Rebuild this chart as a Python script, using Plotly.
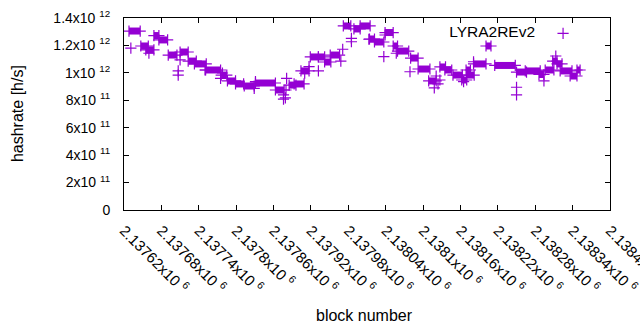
import plotly.graph_objects as go

# Runs of consecutive blocks where the estimate stays at one level: start block, end block, hashrate
run_start = [2137628, 2137647, 2137655, 2137668, 2137676, 2137691, 2137710, 2137723, 2137733, 2137751,
             2137776, 2137786, 2137799, 2137813, 2137831, 2137863, 2137885, 2137893, 2137904, 2137919,
             2137932, 2137942, 2137951, 2137972, 2137989, 2137999, 2138014, 2138022, 2138039, 2138052,
             2138059, 2138080, 2138092, 2138109, 2138127, 2138135, 2138148, 2138162, 2138169, 2138170,
             2138181, 2138201, 2138215, 2138250, 2138264, 2138286, 2138296, 2138308, 2138315, 2138320,
             2138336, 2138347]
run_end = [2137646, 2137659, 2137668, 2137676, 2137690, 2137705, 2137723, 2137736, 2137752, 2137775,
           2137785, 2137799, 2137812, 2137829, 2137863, 2137877, 2137896, 2137909, 2137917, 2137932,
           2137942, 2137952, 2137966, 2137984, 2137999, 2138015, 2138022, 2138037, 2138052, 2138059,
           2138077, 2138092, 2138111, 2138121, 2138136, 2138146, 2138163, 2138170, 2138176, 2138182,
           2138201, 2138209, 2138248, 2138266, 2138288, 2138294, 2138310, 2138315, 2138323, 2138339,
           2138347, 2138352]
run_value = [1.305e12, 1.196e12, 1.167e12, 1.272e12, 1.240e12, 1.130e12, 1.152e12, 1.086e12, 1.065e12, 1.021e12,
             0.984e12, 0.941e12, 0.919e12, 0.904e12, 0.926e12, 0.875e12, 0.911e12, 0.919e12, 1.014e12, 1.116e12,
             1.116e12, 1.079e12, 1.130e12, 1.342e12, 1.320e12, 1.342e12, 1.247e12, 1.225e12, 1.294e12, 1.196e12,
             1.159e12, 1.108e12, 1.028e12, 0.941e12, 1.043e12, 1.021e12, 0.984e12, 0.948e12, 1.021e12, 0.984e12,
             1.065e12, 1.196e12, 1.054e12, 1.006e12, 1.014e12, 0.988e12, 1.021e12, 1.086e12, 1.065e12, 1.014e12,
             0.977e12, 1.021e12]

# Single blocks off the level runs
pt_block = [2137631, 2137660, 2137710, 2137707, 2137707, 2137750, 2137775, 2137778, 2137829, 2137831,
            2137876, 2137876, 2137881, 2137880, 2137879, 2137917, 2137910, 2137932, 2137968, 2137971,
            2137985, 2137985, 2138013, 2138037, 2138039, 2138057, 2138079, 2138121, 2138124, 2138118,
            2138127, 2138165, 2138181, 2138250, 2138250, 2138294, 2138313]
pt_value = [1.181e12, 1.143e12, 1.094e12, 1.014e12, 0.984e12, 1.021e12, 0.960e12, 0.999e12, 0.887e12, 0.936e12,
            0.809e12, 0.839e12, 0.960e12, 0.875e12, 0.817e12, 1.045e12, 0.997e12, 1.014e12, 1.086e12, 1.172e12,
            1.227e12, 1.252e12, 1.245e12, 1.118e12, 1.276e12, 1.143e12, 1.008e12, 0.977e12, 0.919e12, 0.890e12,
            0.948e12, 0.936e12, 1.081e12, 0.895e12, 0.839e12, 0.941e12, 1.123e12]

x_tickvals = [2137620 + 60 * i for i in range(14)]
x_ticktext = ["2.13762", "2.13768", "2.13774", "2.1378", "2.13786", "2.13792", "2.13798",
              "2.13804", "2.1381", "2.13816", "2.13822", "2.13828", "2.13834", "2.1384"]
y_tickvals = [0, 2e11, 4e11, 6e11, 8e11, 1e12, 1.2e12, 1.4e12]
y_ticktext = ["0", "2x10 <sup>11</sup>", "4x10 <sup>11</sup>", "6x10 <sup>11</sup>", "8x10 <sup>11</sup>",
              "1x10 <sup>12</sup>", "1.2x10 <sup>12</sup>", "1.4x10 <sup>12</sup>"]

COLOR = "#9400D3"
FONT = "Liberation Sans, Arial, sans-serif"

seg_x, seg_y = [], []
for s, e, v in zip(run_start, run_end, run_value):
    seg_x += [s, e, None]
    seg_y += [v, v, None]

mk_x = list(pt_block) + list(run_start) + list(run_end)
mk_y = list(pt_value) + list(run_value) + list(run_value)

fig = go.Figure()
fig.add_trace(go.Scatter(x=seg_x, y=seg_y, mode="lines", line=dict(color=COLOR, width=7),
                         showlegend=False, hoverinfo="skip"))
fig.add_trace(go.Scatter(x=mk_x, y=mk_y, mode="markers", name="",
                         marker=dict(symbol="cross-thin", size=8, line=dict(color=COLOR, width=1.2), color=COLOR),
                         showlegend=True))

fig.update_layout(
    width=640, height=330,
    margin=dict(l=124, r=30, t=18, b=120, autoexpand=False),
    paper_bgcolor="white", plot_bgcolor="white",
    font=dict(family=FONT, size=14, color="black"),
    showlegend=True,
    legend=dict(x=0.665, y=1.005, xanchor="left", yanchor="top", bgcolor="rgba(0,0,0,0)",
                orientation="h", title=dict(text="LYRA2REv2", side="left", font=dict(size=15.5)),
                font=dict(size=15)),
    xaxis=dict(range=[2137620, 2138400], tickvals=x_tickvals,
               ticktext=[t + "x10 <sup>6</sup>" for t in x_ticktext], tickangle=45,
               tickfont=dict(size=15), automargin=False, ticklabeloverflow="allow",
               ticklabelstandoff=5,
               ticks="inside", ticklen=5, tickcolor="black", showline=True, linecolor="black",
               linewidth=1, mirror="ticks", showgrid=False, zeroline=False),
    yaxis=dict(range=[0, 1.4e12], tickvals=y_tickvals, ticktext=y_ticktext,
               tickfont=dict(size=14), automargin=False, ticklabeloverflow="allow",
               ticks="inside", ticklen=5, tickcolor="black", showline=True, linecolor="black",
               linewidth=1, mirror="ticks", showgrid=False, zeroline=False, ticklabelstandoff=10),
    annotations=[
        dict(text="hashrate [h/s]", x=-0.22, y=0.5, xref="paper", yref="paper", textangle=-90,
             xanchor="center", yanchor="middle", showarrow=False, font=dict(size=16)),
        dict(text="block number", x=0.494, y=-0.547, xref="paper", yref="paper",
             xanchor="center", yanchor="middle", showarrow=False, font=dict(size=16)),
    ],
)

fig.write_html("out.html", config={"displayModeBar": False},
               post_script="document.body.style.margin='0';document.body.style.overflow='hidden';")
